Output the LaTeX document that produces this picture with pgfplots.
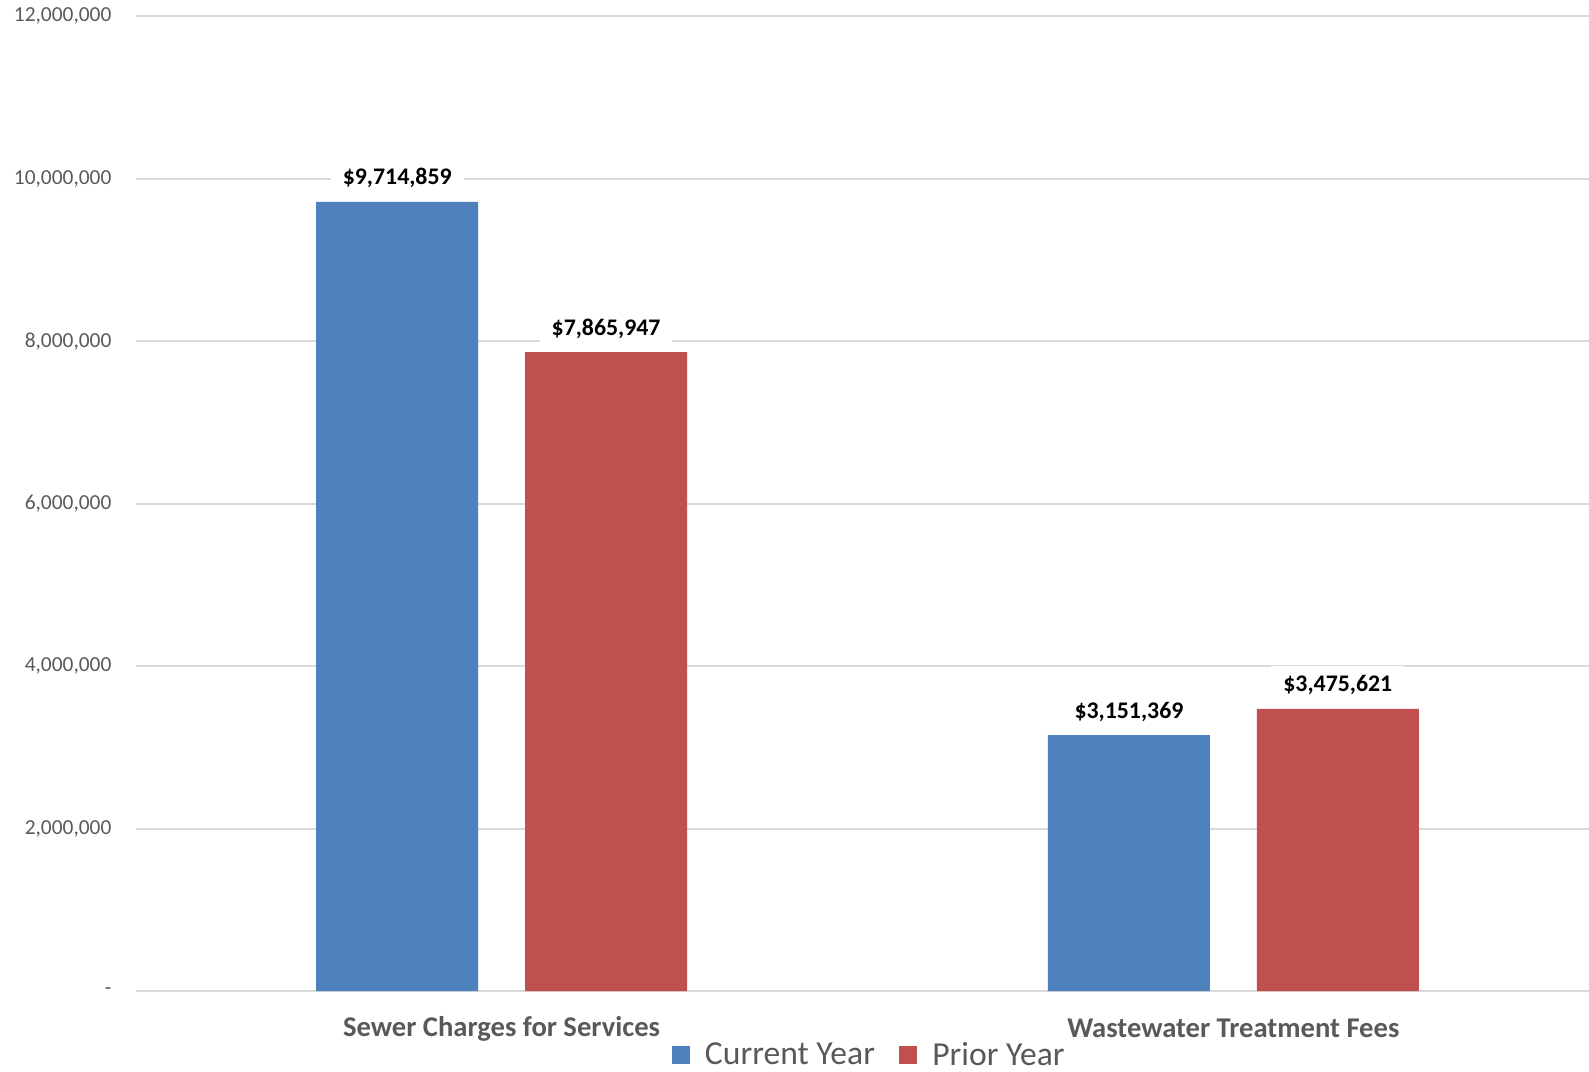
\documentclass[border=0pt]{standalone}
\usepackage{pgfplots}
\pgfplotsset{compat=1.18}
\usepackage{fontspec}
\setmainfont{Carlito}
\definecolor{cblue}{HTML}{4F81BD}
\definecolor{cred}{HTML}{C0504D}
\definecolor{tgray}{HTML}{595959}
\definecolor{ggray}{HTML}{D9D9D9}
\begin{document}
\begin{tikzpicture}
\begin{axis}[name=ax, anchor=south west, at={(0,0)},
  scale only axis, width=726.6pt, height=487.5pt,
  xmin=-0.5, xmax=1.486, ymin=0, ymax=12000000,
  ybar, bar width=0.2214,
  axis line style={draw=none},
  ytick={0,2000000,4000000,6000000,8000000,10000000,12000000},
  yticklabels={-,{2,000,000},{4,000,000},{6,000,000},{8,000,000},{10,000,000},{12,000,000}},
  ymajorgrids, grid style={ggray, line width=1pt},
  xtick={0,1},
  xticklabels={Sewer Charges for Services, Wastewater Treatment Fees},
  major tick length=0pt,
  scaled y ticks=false,
  yticklabel style={font=\fontsize{10.7}{12}\selectfont, text=tgray, inner xsep=0pt, xshift=-12pt},
  xticklabel style={font=\bfseries\fontsize{14.3}{16}\selectfont, text=tgray, anchor=center, yshift=-18.6pt},
  point meta=explicit symbolic,
  nodes near coords={\$\pgfplotspointmeta},
  every node near coord/.append style={font=\bfseries\fontsize{11.9}{14}\selectfont, text=black, fill=white, inner xsep=6pt, inner ysep=5pt, anchor=base, yshift=8.5pt},
  legend style={at={(0.5091,-0.0656)}, anchor=center, draw=none, fill=none, legend columns=2,
    font=\fontsize{16.8}{18}\selectfont, text=tgray,
    /tikz/every even column/.append style={column sep=4.5pt},
    nodes={inner xsep=7.5pt}},
  legend image code/.code={\fill[#1] (0pt,-4.6pt) rectangle (9.2pt,4.6pt);},
]
\addplot[fill=cblue, draw=none, bar shift=-0.1427] coordinates {(0,9714859) [9,714,859] (1,3151369) [3,151,369]};
\addlegendentry{Current Year}
\addplot[fill=cred, draw=none, bar shift=0.1427] coordinates {(0,7865947) [7,865,947] (1,3475621) [3,475,621]};
\addlegendentry{Prior Year}
\end{axis}
\pgfresetboundingbox
\path[use as bounding box] ([xshift=-67.9pt,yshift=-40pt]ax.south west) rectangle ([yshift=8.1pt]ax.north east);
\end{tikzpicture}
\end{document}
